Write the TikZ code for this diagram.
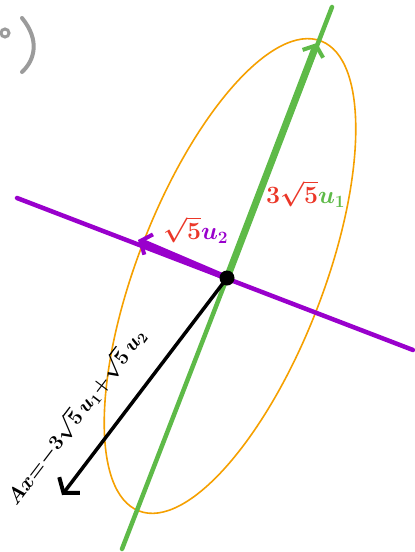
\documentclass[tikz,border=0pt]{standalone}
\usepackage{amsmath,amssymb}
\usetikzlibrary{arrows.meta}
\definecolor{lgreen}{RGB}{94,186,72}
\definecolor{lpurple}{RGB}{153,0,204}
\definecolor{lorange}{RGB}{245,160,0}
\definecolor{lred}{RGB}{235,55,40}
\definecolor{lgray}{RGB}{155,155,155}

\begin{document}
\begin{tikzpicture}[x=1pt,y=-1pt,line cap=round,
    axis/.style={line width=4.5pt},
    vec/.style={line width=7pt,-{Straight Barb[length=9pt,width=22pt,line width=4pt]}},
    lbl/.style={font=\fontsize{27}{30}\selectfont\boldmath}]
  \useasboundingbox (0,0) rectangle (415,552);
  \coordinate (o) at (227,278);
  \coordinate (g1) at (122,549);
  \coordinate (g2) at (332,7);
  \coordinate (p1) at (17,198);
  \coordinate (p2) at (413,350);
  % eigen-axes and the ellipse
  \draw[lorange,line width=1.6pt,rotate around={68.8:(230,276)}] (230,276) ellipse (252 and 93);
  \draw[lgreen,axis] (g1) -- (g2);
  \draw[lpurple,axis] (p1) -- (p2);
  \draw[lgreen,vec] (o) -- (317,43);
  \draw[lpurple,vec,line width=6pt] (o) -- (138,240);
  \draw[line width=3.5pt,-{Straight Barb[length=10pt,width=26pt,line width=4pt]}] (o) -- (62,495);
  \fill (o) circle (7.5);
  % labels
  \node[lbl,anchor=west,inner sep=0pt] (l2) at (163,230) {$\textcolor{lred}{\sqrt{5}}\textcolor{lpurple}{u_2}$};
  \node[lbl,anchor=west,inner sep=0pt] (l1) at (266,194) {$\textcolor{lred}{3\sqrt{5}}\textcolor{lgreen}{u_1}$};
  \node[lbl,font=\fontsize{21}{24}\selectfont\boldmath,inner sep=0pt,rotate=52.7] (lx) at (75,416)
    {$Ax{=}{-}3\sqrt{5}\,u_1{+}\sqrt{5}\,u_2$};
  % cut-off part label
  \draw[lgray,line width=3pt] (5,33) circle (4);
  \draw[lgray,line width=4pt] (22,18) .. controls (40,40) and (35,60) .. (22,72);
\end{tikzpicture}
\end{document}
